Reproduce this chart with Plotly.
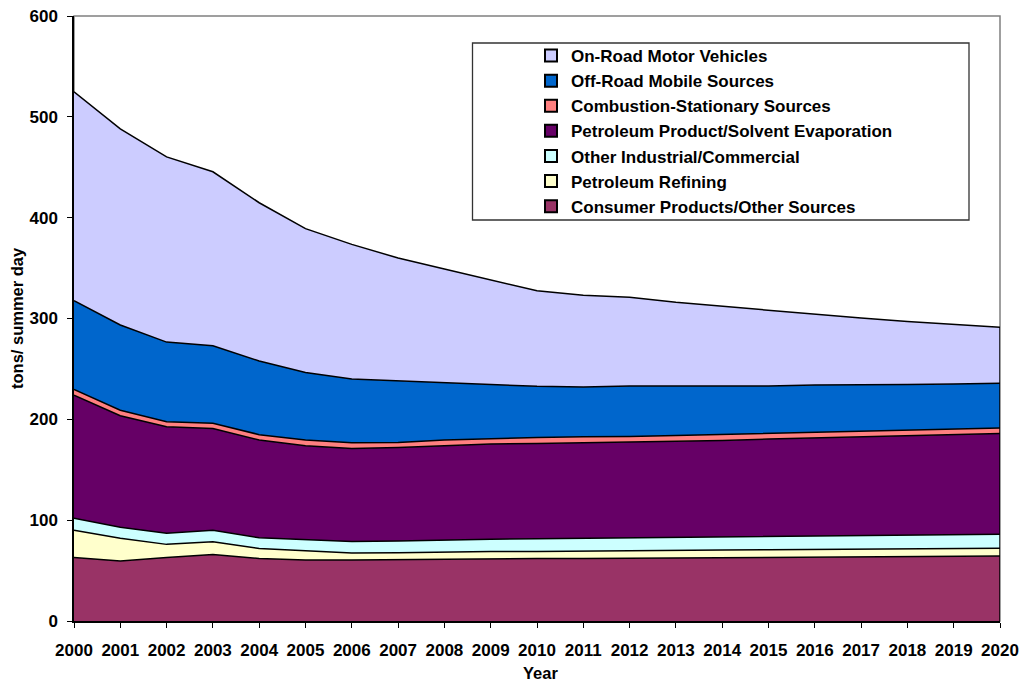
import plotly.graph_objects as go

years = list(range(2000, 2021))

consumer_products = [63, 59.5, 63, 66, 62, 60.5, 60.5, 61, 61.5, 62, 62, 62, 62.2, 62.5, 62.8, 63, 63.3, 63.6, 64, 64.2, 64.5]
petroleum_refining = [27, 22.5, 13, 12.5, 10, 9, 7, 6.8, 7, 7, 7, 7.5, 7.3, 7.5, 7.5, 7.6, 7.7, 7.7, 7.6, 7.8, 7.7]
other_industrial = [12, 11, 11, 11.5, 10.5, 11.5, 11.3, 11.6, 11.9, 12, 12.6, 12.6, 12.6, 12.5, 12.7, 12.9, 13, 13.2, 13.4, 13.5, 13.8]
petroleum_solvent = [122, 110.6, 105.6, 101, 97, 92.8, 92.2, 92.6, 93.4, 94.5, 94.4, 94.7, 94.9, 95.5, 96, 97, 97.5, 98, 98.5, 99.5, 100]
combustion_stationary = [5.7, 5.4, 5, 5, 5.3, 5.6, 5.8, 5, 5.6, 5.5, 6, 6, 6, 6, 6, 5.5, 5.5, 5.5, 5.5, 5, 5.3]
off_road = [88, 84.6, 79, 77, 73, 67, 63.2, 61.3, 56.6, 53.3, 50.7, 49.3, 50, 49, 48, 47, 47, 46, 45.5, 45, 44.4]
on_road = [207.2, 194.4, 183.7, 172.5, 157, 142.7, 133.5, 121.7, 113, 103.7, 94.8, 90.9, 88, 83, 79, 75, 70, 66.5, 62.5, 59, 55.6]

series_names = [
    "Consumer Products/Other Sources",
    "Petroleum Refining",
    "Other Industrial/Commercial",
    "Petroleum Product/Solvent Evaporation",
    "Combustion-Stationary Sources",
    "Off-Road Mobile Sources",
    "On-Road Motor Vehicles",
]
series_values = [consumer_products, petroleum_refining, other_industrial, petroleum_solvent,
                 combustion_stationary, off_road, on_road]
series_colors = ["#993366", "#FFFFCC", "#CCFFFF", "#660066", "#FF8080", "#0066CC", "#CCCCFF"]

FONT = "Arial, Liberation Sans, sans-serif"

# plot-area pixel geometry (figure coordinates)
L, R, T, B = 74, 1000, 16, 621
W, H = R - L, B - T

fig = go.Figure()
for name, vals, col in zip(series_names, series_values, series_colors):
    fig.add_trace(go.Scatter(
        x=years, y=vals, name=name, stackgroup="one", mode="lines",
        line=dict(color="black", width=1.5), fillcolor=col, showlegend=False,
        hoverinfo="x+y+name",
    ))

# legend-only entries (square swatches, top to bottom)
for name, col in reversed(list(zip(series_names, series_colors))):
    fig.add_trace(go.Scatter(
        x=[None], y=[None], mode="markers", name=name, legendgroup=name,
        marker=dict(symbol="square", size=11, color=col, line=dict(color="black", width=1.3)),
    ))

total_last = sum(v[-1] for v in series_values)

fig.update_layout(
    width=1022, height=685,
    margin=dict(l=L, r=1022 - R, t=T, b=685 - B, autoexpand=False),
    paper_bgcolor="white", plot_bgcolor="white",
    font=dict(family=FONT, color="black", size=17),
    showlegend=True,
    legend=dict(
        x=(531 - L) / W, y=1 - (38 - T) / H, xanchor="left", yanchor="top",
        bgcolor="rgba(0,0,0,0)", borderwidth=0,
        font=dict(family=FONT, size=17, weight="bold", color="black"),
        traceorder="grouped", tracegroupgap=0, itemsizing="constant",
    ),
    xaxis=dict(
        range=[2000, 2020], tickvals=years, ticktext=[str(y) for y in years],
        showgrid=False, zeroline=False, showline=True, linecolor="black", linewidth=1.5,
        ticks="outside", ticklen=5, tickcolor="black", tickwidth=1.2, automargin=False,
        tickfont=dict(family=FONT, size=17, weight="bold", color="black"),
        ticklabelstandoff=8,
    ),
    yaxis=dict(
        range=[0, 600], dtick=100,
        showgrid=False, zeroline=False, showline=True, linecolor="black", linewidth=1.5,
        ticks="outside", ticklen=5, tickcolor="black", tickwidth=1.2, automargin=False,
        tickfont=dict(family=FONT, size=17, weight="bold", color="black"),
        ticklabelstandoff=6,
    ),
    shapes=[
        dict(type="rect", xref="paper", yref="paper", x0=0, x1=1, y0=0, y1=1,
             line=dict(color="#808080", width=1.5), layer="below"),
        dict(type="line", xref="x", yref="y", x0=years[-1], x1=years[-1], y0=0, y1=total_last,
             line=dict(color="black", width=1.5)),
        dict(type="rect", xref="paper", yref="paper", x0=(472.5 - L) / W, x1=(969 - L) / W,
             y0=1 - (220 - T) / H, y1=1 - (43 - T) / H,
             line=dict(color="#333333", width=1.3), fillcolor="white", layer="above"),
    ],
    annotations=[
        dict(text="Year", xref="paper", yref="paper", x=(540 - L) / W, y=1 - (673 - T) / H,
             xanchor="center", yanchor="middle", showarrow=False,
             font=dict(family=FONT, size=16.5, weight="bold")),
        dict(text="tons/ summer day", xref="paper", yref="paper", x=(17 - L) / W, y=1 - (318 - T) / H,
             xanchor="center", yanchor="middle", textangle=-90, showarrow=False,
             font=dict(family=FONT, size=16.5, weight="bold")),
    ],
)

fig.write_html(
    "out.html",
    config={"displayModeBar": False},
    post_script="document.body.style.margin='0';document.body.style.overflow='hidden';",
)
